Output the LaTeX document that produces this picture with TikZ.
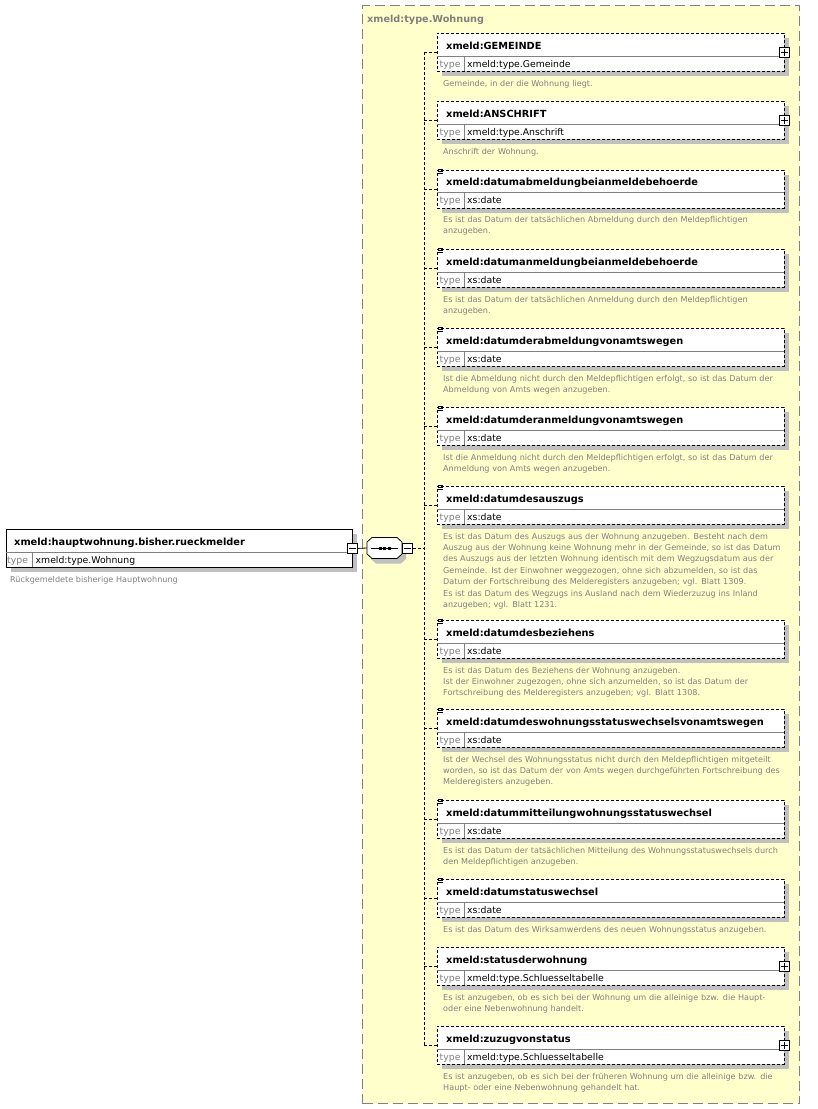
\documentclass[tikz,border=0pt]{standalone}
\usepackage{fontspec}
\setmainfont{DejaVu Sans}
\usetikzlibrary{shadows}
\definecolor{yel}{RGB}{255,255,204}
\definecolor{grayline}{RGB}{128,128,128}
\definecolor{shad}{RGB}{192,192,192}
\definecolor{desctext}{RGB}{128,128,128}
\tikzset{
  boxshadow/.style={drop shadow={shadow xshift=5pt, shadow yshift=-5pt, fill=shad, opacity=1}},
  elembox/.style={draw=black, line width=0.8pt, dash pattern=on 3pt off 2pt, fill=white,
    minimum width=347pt, minimum height=38pt, inner sep=0pt, anchor=north west, boxshadow},
  rootbox/.style={draw=black, line width=0.8pt, fill=white,
    minimum width=346pt, minimum height=38pt, inner sep=0pt, anchor=north west, boxshadow},
  typebox/.style={draw=grayline, fill=yel, line width=1pt, dash pattern=on 10pt off 5pt,
    minimum width=437pt, minimum height=1098pt, inner sep=0pt, anchor=north west},
  divline/.style={draw=grayline, line width=0.6pt},
  titletext/.style={font=\bfseries\fontsize{9.8}{12}\selectfont, anchor=base west, inner sep=0pt},
  grouptitle/.style={font=\bfseries\fontsize{9.7}{12}\selectfont, text=grayline, anchor=base west, inner sep=0pt},
  typetext/.style={font=\fontsize{9.3}{11}\selectfont, anchor=base west, inner sep=0pt},
  typelabel/.style={font=\fontsize{9.3}{11}\selectfont, text=grayline, anchor=base west, inner sep=0pt},
  desc/.style={font=\fontsize{8.1}{11.4}\selectfont, text=desctext, text width=350pt, align=left,
    anchor=base west, inner sep=0pt},
  expbox/.style={draw=black, line width=0.8pt, fill=white, minimum size=10pt, inner sep=0pt},
  conn/.style={draw=black, line width=0.8pt, dash pattern=on 3pt off 2pt},
  solidconn/.style={draw=black, line width=0.8pt},
}
\newcommand\xelem[7]{%
  \node[elembox] (#1) at (437,#2) {};
  \draw[divline] (437,#2+23) -- (784,#2+23);
  \draw[divline] (464,#2+23) -- (464,#2+38);
  \node[titletext] (#1t) at (446,#2+16.3) {#3};
  \node[typelabel] (#1l) at (439.5,#2+34) {type};
  \node[typetext] (#1v) at (467,#2+34) {#4};
  \node[desc] (#1d) at (443,#2+53) {#7};
  \ifnum#5=1\relax
    \node[expbox] (#1p) at (#1.east) {};
    \draw[line width=0.8pt] ([xshift=-3.5pt]#1p.center) -- ([xshift=3.5pt]#1p.center)
      ([yshift=-3.5pt]#1p.center) -- ([yshift=3.5pt]#1p.center);
  \fi
  \ifnum#6=1\relax
    \draw[line width=0.7pt] (438,#2-0.3) -- (443,#2-0.3) (438,#2+1.7) -- (443,#2+1.7) (438,#2+3.7) -- (443,#2+3.7);
  \fi
  \draw[conn] (#1.west -| spine) -- (#1.west);
}
\begin{document}
\begin{tikzpicture}[x=1pt, y=-1pt]
\path[use as bounding box] (0,0) rectangle (818,1109);
% group box
\node[typebox] (wohn) at (362,5) {};
\node[grouptitle] (wohnt) at (367,22.5) {xmeld:type.Wohnung};
\coordinate (spine) at (424,0);
% root element
\node[rootbox] (root) at (6,529) {};
\draw[divline] (6,552) -- (352,552);
\draw[divline] (32,552) -- (32,567);
\node[titletext] (roott) at (14,545.3) {xmeld:hauptwohnung.bisher.rueckmelder};
\node[typelabel] (rootl) at (7,563) {type};
\node[typetext] (rootv) at (35.5,563) {xmeld:type.Wohnung};
\node[desc, text width=300pt] (rootd) at (10,582) {Rückgemeldete bisherige Hauptwohnung};
\node[expbox] (rootm) at (root.east) {};
\draw[line width=0.8pt] ([xshift=-3.5pt]rootm.center) -- ([xshift=3.5pt]rootm.center);
% sequence compositor
\node[minimum width=35pt, minimum height=21pt, inner sep=0pt] (seq) at (384.5,548) {};
\begin{scope}[shift={(seq.center)}]
  \fill[shad] (-8.5,-5.5) -- (16.5,-5.5) -- (21.5,-1) -- (21.5,11) -- (16.5,15.5) -- (-8.5,15.5) -- (-13.5,11) -- (-13.5,-1) -- cycle;
  \draw[line width=0.8pt, fill=white] (-12.5,-10.5) -- (12.5,-10.5) -- (17.5,-6) -- (17.5,6) -- (12.5,10.5) -- (-12.5,10.5) -- (-17.5,6) -- (-17.5,-6) -- cycle;
  \draw[line width=0.8pt] (-13.5,0) -- (13.5,0);
  \fill (-6,-1.5) rectangle (-3,1.5);
  \fill (-1.5,-1.5) rectangle (1.5,1.5);
  \fill (3,-1.5) rectangle (6,1.5);
\end{scope}
\node[expbox, anchor=west] (seqm) at (seq.east) {};
\draw[line width=0.8pt] ([xshift=-3.5pt]seqm.center) -- ([xshift=3.5pt]seqm.center);
\draw[solidconn] (rootm.east) -- (seq.west);
\draw[conn] (seqm.east) -- (seqm.east -| spine);
% children
\xelem{gem}{33}{xmeld:GEMEINDE}{xmeld:type.Gemeinde}{1}{0}{Gemeinde, in der die Wohnung liegt.}
\xelem{ans}{101}{xmeld:ANSCHRIFT}{xmeld:type.Anschrift}{1}{0}{Anschrift der Wohnung.}
\xelem{dab}{169.5}{xmeld:datumabmeldungbeianmeldebehoerde}{xs:date}{0}{1}{Es ist das Datum der tatsächlichen Abmeldung durch den Meldepflichtigen\\anzugeben.}
\xelem{dan}{249}{xmeld:datumanmeldungbeianmeldebehoerde}{xs:date}{0}{1}{Es ist das Datum der tatsächlichen Anmeldung durch den Meldepflichtigen\\anzugeben.}
\xelem{dabv}{328}{xmeld:datumderabmeldungvonamtswegen}{xs:date}{0}{1}{Ist die Abmeldung nicht durch den Meldepflichtigen erfolgt, so ist das Datum der\\Abmeldung von Amts wegen anzugeben.}
\xelem{danv}{407}{xmeld:datumderanmeldungvonamtswegen}{xs:date}{0}{1}{Ist die Anmeldung nicht durch den Meldepflichtigen erfolgt, so ist das Datum der\\Anmeldung von Amts wegen anzugeben.}
\xelem{dausz}{486}{xmeld:datumdesauszugs}{xs:date}{0}{1}{Es ist das Datum des Auszugs aus der Wohnung anzugeben. Besteht nach dem\\Auszug aus der Wohnung keine Wohnung mehr in der Gemeinde, so ist das Datum\\des Auszugs aus der letzten Wohnung identisch mit dem Wegzugsdatum aus der\\Gemeinde. Ist der Einwohner weggezogen, ohne sich abzumelden, so ist das\\Datum der Fortschreibung des Melderegisters anzugeben; vgl. Blatt 1309.\\Es ist das Datum des Wegzugs ins Ausland nach dem Wiederzuzug ins Inland\\anzugeben; vgl. Blatt 1231.}
\xelem{dbez}{620}{xmeld:datumdesbeziehens}{xs:date}{0}{1}{Es ist das Datum des Beziehens der Wohnung anzugeben.\\Ist der Einwohner zugezogen, ohne sich anzumelden, so ist das Datum der\\Fortschreibung des Melderegisters anzugeben; vgl. Blatt 1308.}
\xelem{dwsw}{709}{xmeld:datumdeswohnungsstatuswechselsvonamtswegen}{xs:date}{0}{1}{Ist der Wechsel des Wohnungsstatus nicht durch den Meldepflichtigen mitgeteilt\\worden, so ist das Datum der von Amts wegen durchgeführten Fortschreibung des\\Melderegisters anzugeben.}
\xelem{dmit}{800}{xmeld:datummitteilungwohnungsstatuswechsel}{xs:date}{0}{1}{Es ist das Datum der tatsächlichen Mitteilung des Wohnungsstatuswechsels durch\\den Meldepflichtigen anzugeben.}
\xelem{dsw}{879}{xmeld:datumstatuswechsel}{xs:date}{0}{1}{Es ist das Datum des Wirksamwerdens des neuen Wohnungsstatus anzugeben.}
\xelem{sdw}{947}{xmeld:statusderwohnung}{xmeld:type.Schluesseltabelle}{1}{0}{Es ist anzugeben, ob es sich bei der Wohnung um die alleinige bzw. die Haupt-\\oder eine Nebenwohnung handelt.}
\xelem{zvs}{1026}{xmeld:zuzugvonstatus}{xmeld:type.Schluesseltabelle}{1}{0}{Es ist anzugeben, ob es sich bei der früheren Wohnung um die alleinige bzw. die\\Haupt- oder eine Nebenwohnung gehandelt hat.}
% spine
\draw[conn] (gem.west -| spine) -- (zvs.west -| spine);
\end{tikzpicture}
\end{document}
